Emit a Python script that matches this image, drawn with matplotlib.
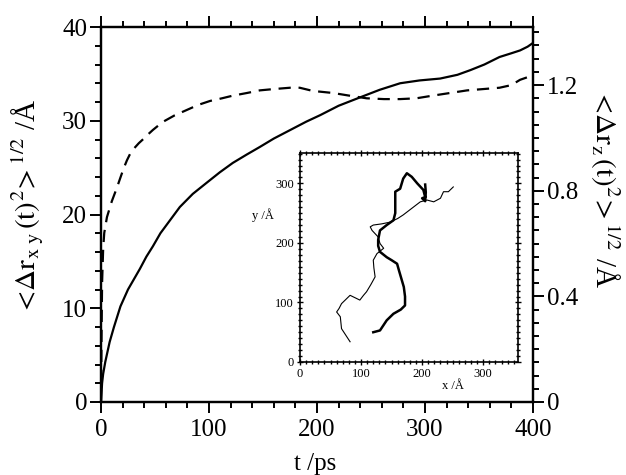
import matplotlib
matplotlib.use("Agg")
import matplotlib.pyplot as plt
from matplotlib.ticker import MultipleLocator

plt.rcParams['font.family'] = ['Liberation Serif', 'DejaVu Serif']
plt.rcParams['mathtext.fontset'] = 'stix'

# solid curve: lateral rms displacement (left axis)
t_xy = [0, 1, 2, 4, 8, 12, 18, 25, 30, 36, 42, 48, 55, 64, 73, 85, 98, 110, 122, 135,
        147, 160, 175, 190, 203, 220, 240, 258, 277, 295, 314, 330, 342, 355, 369, 380,
        388, 395, 400]
r_xy = [0, 2.0, 3.0, 4.3, 6.4, 8.0, 10.2, 12.0, 13.0, 14.2, 15.5, 16.6, 18.0, 19.4, 20.8,
        22.2, 23.4, 24.5, 25.5, 26.4, 27.2, 28.1, 29.0, 29.9, 30.6, 31.6, 32.5, 33.3, 34.0,
        34.3, 34.5, 34.9, 35.4, 36.0, 36.8, 37.2, 37.5, 37.9, 38.3]

# dashed curve: normal rms displacement (right axis)
t_z = [0, 0.5, 1, 2, 3, 5.5, 10, 14.6, 18, 21, 24, 27, 31, 35, 39, 44, 48, 57, 68, 79, 90,
       101, 112, 122, 135, 147, 160, 175, 184, 196, 215, 230, 246, 262, 277, 292, 307, 323,
       339, 354, 369, 380, 388, 395]
r_z = [0, 0.25, 0.45, 0.58, 0.64, 0.70, 0.76, 0.81, 0.85, 0.885, 0.915, 0.94, 0.962, 0.98,
       0.995, 1.015, 1.03, 1.06, 1.085, 1.105, 1.125, 1.14, 1.15, 1.16, 1.17, 1.18, 1.185,
       1.19, 1.19, 1.178, 1.17, 1.16, 1.15, 1.147, 1.147, 1.15, 1.16, 1.17, 1.18, 1.185,
       1.19, 1.20, 1.22, 1.23]

# inset trajectories
thin_x = [82, 75, 68, 66, 60, 64, 68, 82, 90, 98, 104, 109, 116, 123, 121, 120, 126, 137,
          131, 128, 118, 115, 120, 134, 148, 160, 169, 183, 197, 208, 219, 230, 235, 243, 251]
thin_y = [34, 45, 56, 76, 84, 90, 98, 112, 108, 104, 112, 118, 130, 143, 158, 171, 182, 191,
          199, 210, 221, 227, 230, 232, 235, 241, 247, 258, 269, 272, 269, 275, 286, 286, 294]
thick_x = [120, 131, 142, 153, 165, 172, 172, 170, 166, 162, 159, 150, 142, 131, 128, 128,
           131, 142, 153, 156, 156, 156, 164, 169, 175, 183, 192, 202, 205, 200, 205, 206, 205]
thick_y = [50, 53, 70, 81, 88, 95, 110, 126, 140, 154, 165, 171, 176, 185, 195, 205, 221,
           230, 238, 250, 261, 286, 291, 308, 317, 311, 300, 289, 277, 275, 270, 285, 298]

x_ticks = [0, 100, 200, 300, 400]
yl_ticks = [0, 10, 20, 30, 40]
yr_ticks = [0, 0.4, 0.8, 1.2]
yr_labels = ['0', '0.4', '0.8', '1.2']
inset_ticks = [0, 100, 200, 300]

W, H = 626, 475
fig = plt.figure(figsize=(W / 100, H / 100), dpi=100)
ax = fig.add_axes([101 / W, 1 - 402 / H, 432 / W, 375 / H])
ax2 = ax.twinx()

ax.plot(t_xy, r_xy, color='black', lw=1.6)
ax2.plot(t_z, r_z, color='black', lw=1.6, dashes=(5.5, 3.5))

ax.set_xlim(0, 400)
ax.set_ylim(0, 40)
ax2.set_ylim(0, 1.42)
ax.set_xticks(x_ticks)
ax.set_yticks(yl_ticks)
ax2.set_yticks(yr_ticks)
ax2.set_yticklabels(yr_labels)
ax.xaxis.set_minor_locator(MultipleLocator(20))
ax.yaxis.set_minor_locator(MultipleLocator(2))
ax2.yaxis.set_minor_locator(MultipleLocator(0.05))

for a in (ax, ax2):
    for s in a.spines.values():
        s.set_linewidth(1.6)
ax.tick_params(which='both', direction='out', top=True, width=1.4, labelsize=18)
ax.tick_params(axis='x', pad=4)
ax.tick_params(axis='y', pad=2)
ax.tick_params(which='major', length=8)
ax.tick_params(which='minor', length=4.5)
ax2.tick_params(which='both', direction='out', width=1.4, labelsize=18, pad=2)
ax2.tick_params(which='major', length=8)
ax2.tick_params(which='minor', length=4.5)

ax.set_xlabel('t /ps', fontsize=18)
ax.xaxis.set_label_coords(0.495, -0.135)
ax.set_ylabel(r'$<\!\Delta\mathrm{r}_{\mathrm{x\ y}}\,\mathrm{(t)}^{2}\!>^{1/2}$ /Å', fontsize=21)
ax.yaxis.set_label_coords(-0.128, 0.52)
ax2.set_ylabel(r'$<\!\Delta\mathrm{r}_{\mathrm{z}}\,\mathrm{(t)}^{2}\!>^{1/2}$ /Å', fontsize=21,
               rotation=270)
ax2.yaxis.set_label_coords(1.205, 0.57)

# inset
axi = fig.add_axes([300 / W, 1 - 362 / H, 218 / W, 209 / H])
axi.plot(thin_x, thin_y, color='black', lw=0.8)
axi.plot(thick_x, thick_y, color='black', lw=1.8)
axi.set_xlim(0, 357)
axi.set_ylim(0, 351)
axi.set_xticks(inset_ticks)
axi.set_yticks(inset_ticks)
axi.xaxis.set_minor_locator(MultipleLocator(10))
axi.yaxis.set_minor_locator(MultipleLocator(10))
for s in axi.spines.values():
    s.set_linewidth(1.2)
axi.tick_params(which='both', direction='inout', top=True, right=True, width=1.0,
                labelsize=9, pad=2)
axi.tick_params(which='major', length=5)
axi.tick_params(which='minor', length=3)
axi.set_xlabel('x /Å', fontsize=9)
axi.xaxis.set_label_coords(0.70, -0.085)
axi.set_ylabel('y /Å', fontsize=9, rotation=0)
axi.yaxis.set_label_coords(-0.17, 0.67)

fig.savefig('out.png', dpi=100)
